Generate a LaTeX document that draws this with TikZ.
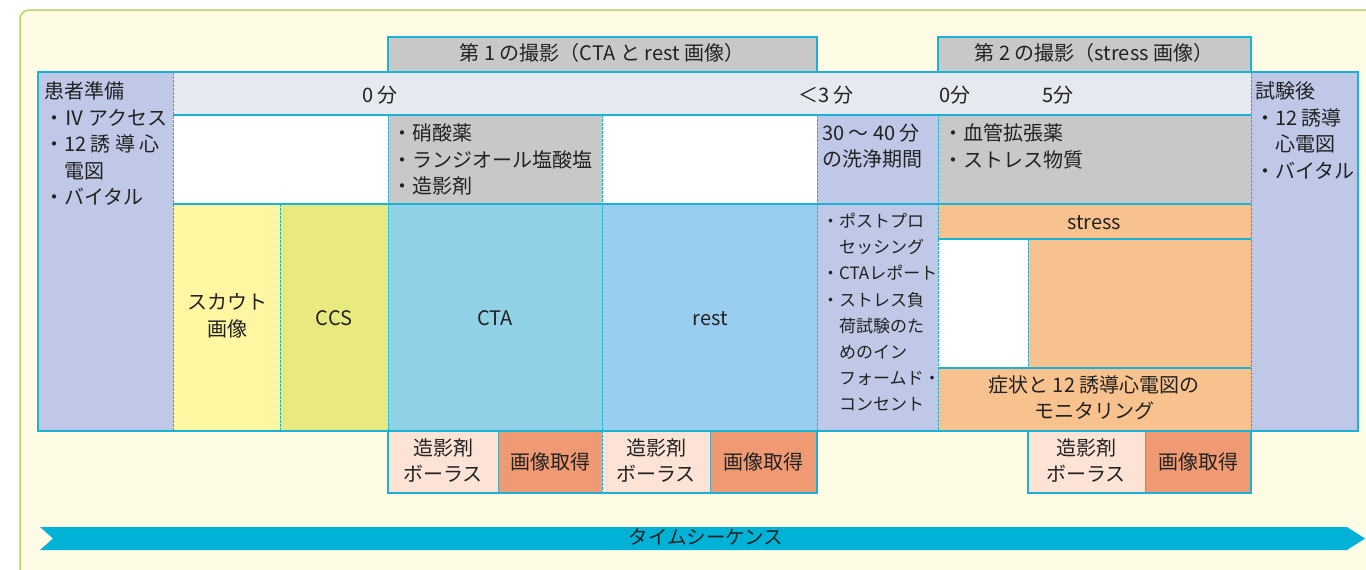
\documentclass[tikz,border=0pt]{standalone}
\usepackage{fontspec}
\setmainfont{Noto Sans CJK JP}
\definecolor{bgfill}{HTML}{FFFCE6}
\definecolor{bgline}{HTML}{B8D26A}
\definecolor{cy}{HTML}{1AB3D6}
\definecolor{tabgray}{HTML}{C8C8C8}
\definecolor{timerow}{HTML}{E6EAF0}
\definecolor{lav}{HTML}{BFC8E6}
\definecolor{yel}{HTML}{FFF6A2}
\definecolor{ygreen}{HTML}{E8E97E}
\definecolor{ctac}{HTML}{90D1E6}
\definecolor{restc}{HTML}{99CEF0}
\definecolor{orng}{HTML}{F8C28E}
\definecolor{pinkc}{HTML}{FCE3D6}
\definecolor{salmon}{HTML}{F09A74}
\definecolor{arrowc}{HTML}{00B2D6}
\definecolor{ink}{HTML}{222222}
\newcommand{\cellat}[6]{\node[cellbox, fill=#6, minimum width={#4-#2}, minimum height={#5-#3}] (#1) at (#2,#3) {};}
\tikzset{
  cellbox/.style={anchor=north west, inner sep=0pt, outer sep=0pt, draw=none},
  txt/.style={inner sep=0pt, outer sep=0pt, text=ink, font=\fontsize{20}{26.5}\selectfont,
    execute at begin node=\strut, execute at end node=\strut},
  smalltxt/.style={txt, font=\fontsize{17}{26.2}\selectfont},
  listtxt/.style={txt, align=left, anchor=north west},
  ctr/.style={txt, align=center, anchor=center},
  divd/.style={draw=cy, line width=0.9pt, dash pattern=on 2.5pt off 1.5pt},
  divs/.style={draw=cy, line width=1.2pt},
  frame/.style={draw=cy, line width=2.5pt},
}
\begin{document}
\begin{tikzpicture}[x=1pt,y=-1pt]
\useasboundingbox (0,0) rectangle (1366,570);
\fill[white] (0,0) rectangle (1366,570);
\draw[rounded corners=9pt, draw=bgline, fill=bgfill, line width=1.5pt] (20,10) rectangle (1395,600);

% cells
\cellat{tab1}{388}{37}{817}{72}{tabgray}
\cellat{tab2}{938}{37}{1251}{72}{tabgray}
\cellat{prep}{38}{72}{173}{431}{lav}
\cellat{time}{173}{72}{1251}{115}{timerow}
\cellat{post}{1251}{72}{1358}{431}{lav}
\cellat{r2a}{173}{115}{388}{204}{white}
\cellat{r2b}{388}{115}{602}{204}{tabgray}
\cellat{r2c}{602}{115}{817}{204}{white}
\cellat{r2d}{817}{115}{938}{204}{lav}
\cellat{r2e}{938}{115}{1251}{204}{tabgray}
\cellat{scout}{173}{204}{280}{431}{yel}
\cellat{ccs}{280}{204}{388}{431}{ygreen}
\cellat{cta}{388}{204}{602}{431}{ctac}
\cellat{rest}{602}{204}{817}{431}{restc}
\cellat{pp}{817}{204}{938}{431}{lav}
\cellat{stress}{938}{204}{1251}{239}{orng}
\cellat{sw}{938}{239}{1028}{368}{white}
\cellat{so}{1028}{239}{1251}{368}{orng}
\cellat{mon}{938}{368}{1251}{431}{orng}
\cellat{b1}{388}{431}{498}{493}{pinkc}
\cellat{b2}{498}{431}{602}{493}{salmon}
\cellat{b3}{602}{431}{710}{493}{pinkc}
\cellat{b4}{710}{431}{817}{493}{salmon}
\cellat{b5}{1028}{431}{1145}{493}{pinkc}
\cellat{b6}{1145}{431}{1251}{493}{salmon}

% solid horizontal dividers
\draw[divs] (time.south west) -- (time.south east);
\draw[divs] (r2a.south west) -- (r2e.south east);
\draw[divs] (stress.south west) -- (stress.south east);
\draw[divs] (mon.north west) -- (mon.north east);

% dashed vertical dividers
\draw[divd] (prep.north east) -- (prep.south east);
\draw[divd] (post.north west) -- (post.south west);
\draw[divd] (scout.north east) -- (scout.south east);
\draw[divd] (r2a.north east) -- (ccs.south east);
\draw[divd] (r2b.north east) -- (cta.south east);
\draw[divd] (r2c.north east) -- (rest.south east);
\draw[divd] (r2d.north east) -- (pp.south east);
\draw[divd] (sw.north east) -- (sw.south east);
\draw[divd] (b1.north east) -- (b1.south east);
\draw[divd] (b2.north east) -- (b2.south east);
\draw[divd] (b3.north east) -- (b3.south east);
\draw[divd] (b5.north east) -- (b5.south east);

% frames
\draw[frame] (tab1.north west) rectangle (tab1.south east);
\draw[frame] (tab2.north west) rectangle (tab2.south east);
\draw[frame] (prep.north west) rectangle (post.south east);
\draw[frame] (b1.north west) rectangle (b4.south east);
\draw[frame] (b5.north west) rectangle (b6.south east);

% texts
\node[ctr] (t1) at (602,55) {第 1 の撮影（CTA と rest 画像）};
\node[ctr] (t2) at (1094,55) {第 2 の撮影（stress 画像）};
\node[ctr] (m0) at (380,97) {0 分};
\node[ctr] (m3) at (826,97) {＜3 分};
\node[ctr] (n0) at (955,97) {0分};
\node[ctr] (n5) at (1058,97) {5分};

\node[listtxt] (lprep) at (44,82) {患者準備\\・Ⅳ アクセス\\・12 誘 導 心\\　電図\\・バイタル};
\node[listtxt] (lpost) at (1255,82) {試験後\\・12 誘導\\　心電図\\・バイタル};
\node[listtxt] (ldrug) at (392,124) {・硝酸薬\\・ランジオール塩酸塩\\・造影剤};
\node[listtxt] (lwash) at (822,124) {30 ～ 40 分\\の洗浄期間};
\node[listtxt] (lstr) at (943,124) {・血管拡張薬\\・ストレス物質};
\node[listtxt, smalltxt] (lpp) at (822,213) {・ポストプロ\\　セッシング\\・CTAレポート\\・ストレス負\\　荷試験のた\\　めのイン\\　フォームド・\\　コンセント};

\node[ctr] (tscout) at (227,319) {スカウト\\画像};
\node[ctr] (tccs) at (334,320) {CCS};
\node[ctr] (tcta) at (495,320) {CTA};
\node[ctr] (trest) at (710,320) {rest};
\node[ctr] (tstress) at (1094,224) {stress};
\node[ctr] (tmon) at (1094,401) {症状と 12 誘導心電図の\\モニタリング};

\node[ctr] (tb1) at (443,464) {造影剤\\ボーラス};
\node[ctr] (tb2) at (550,464) {画像取得};
\node[ctr] (tb3) at (656,464) {造影剤\\ボーラス};
\node[ctr] (tb4) at (763,464) {画像取得};
\node[ctr] (tb5) at (1086,464) {造影剤\\ボーラス};
\node[ctr] (tb6) at (1198,464) {画像取得};

% time sequence arrow
\fill[arrowc] (40,527) -- (1347,527) -- (1365,538.5) -- (1347,550) -- (40,550) -- (53,538.5) -- cycle;
\node[ctr, font=\fontsize{19.5}{24}\selectfont] (seq) at (706,540) {タイムシーケンス};
\end{tikzpicture}
\end{document}
